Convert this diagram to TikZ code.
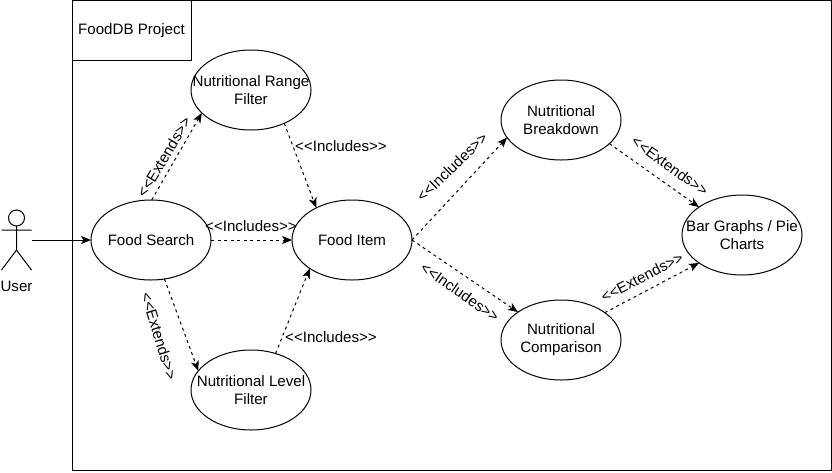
\documentclass[tikz,border=0pt]{standalone}
\usepackage{fontspec}
\setmainfont{Liberation Sans}
\usetikzlibrary{shapes.geometric,arrows.meta}
\newcommand{\dblless}{<{}<}
\newcommand{\dblgtr}{>{}>}
\newcommand{\extlabel}{\dblless Extends\dblgtr}
\newcommand{\inclabel}{\dblless Includes\dblgtr}
\tikzset{
  usecase/.style={ellipse,draw=black,line width=1pt,minimum width=120pt,minimum height=80pt,inner xsep=-25pt,inner ysep=0pt,outer sep=0pt,align=center,font=\fontsize{15.1}{18}\selectfont},
  frame/.style={draw=black,line width=1pt,inner sep=0pt,outer sep=0pt},
  flow/.style={line width=1pt,-{Stealth[length=10pt,width=8pt,inset=2.5pt]}},
  dep/.style={flow,dash pattern=on 3pt off 3.5pt},
  lbl/.style={font=\fontsize{15.1}{18}\selectfont,inner sep=0pt},
  stick/.style={draw=black,line width=1pt}
}
\begin{document}
\begin{tikzpicture}[x=1pt,y=-1pt]
\useasboundingbox (0,0) rectangle (832,472);
\fill[white] (0,0) rectangle (832,472);
\node[frame,minimum width=759pt,minimum height=470pt,anchor=north west] (system) at (72,0.5) {};
\node[frame,minimum width=119pt,minimum height=60pt,anchor=north west,lbl] (project) at (72,0.5) {FoodDB Project};
\node[usecase] (search) at (151,240) {Food Search};
\node[usecase] (range) at (251,90) {Nutritional Range\\Filter};
\node[usecase] (level) at (251,390) {Nutritional Level\\Filter};
\node[usecase] (item) at (352,240) {Food Item};
\node[usecase] (breakdown) at (561,120) {Nutritional\\Breakdown};
\node[usecase] (comparison) at (561,340) {Nutritional\\Comparison};
\node[usecase] (charts) at (742,235) {Bar Graphs / Pie\\Charts};
% actor
\node[circle,stick,minimum size=16pt,inner sep=0pt,outer sep=0pt] (head) at (16.5,218) {};
\coordinate (hip) at (16.5,250);
\coordinate (armL) at (1.5,230);
\coordinate (armR) at (31.5,230);
\coordinate (legL) at (1.5,270);
\coordinate (legR) at (31.5,270);
\draw[stick] (head.south) -- (hip) -- (legL) (hip) -- (legR) (armL) -- (armR);
\node[lbl] (user) at (16.5,286) {User};
\coordinate (hand) at (31.5,240);
% connectors
\draw[flow] (hand) -- (search.west);
\draw[dep] (search.89) -- (range.205);
\draw[dep] (range.-45) -- (item.138);
\draw[dep] (search.east) -- (item.west);
\draw[dep] (search.-71) -- (level.160);
\draw[dep] (level.56) -- (item.214);
\draw[dep] (item.east) -- (breakdown.198);
\draw[dep] (item.east) -- (comparison.147);
\draw[dep] (breakdown.-26) -- (charts.147);
\draw[dep] (comparison.32) -- (charts.213);
% labels
\node[lbl,rotate=59] (l1) at (164,157) {\extlabel};
\node[lbl,rotate=-73] (l2) at (159,336) {\extlabel};
\node[lbl] (l3) at (341,146) {\inclabel};
\node[lbl] (l4) at (251,226) {\inclabel};
\node[lbl] (l5) at (331,337) {\inclabel};
\node[lbl,rotate=44] (l6) at (452,167) {\inclabel};
\node[lbl,rotate=-35] (l7) at (460,292) {\inclabel};
\node[lbl,rotate=-36] (l8) at (670,166) {\extlabel};
\node[lbl,rotate=27] (l9) at (642,277) {\extlabel};
\end{tikzpicture}
\end{document}
